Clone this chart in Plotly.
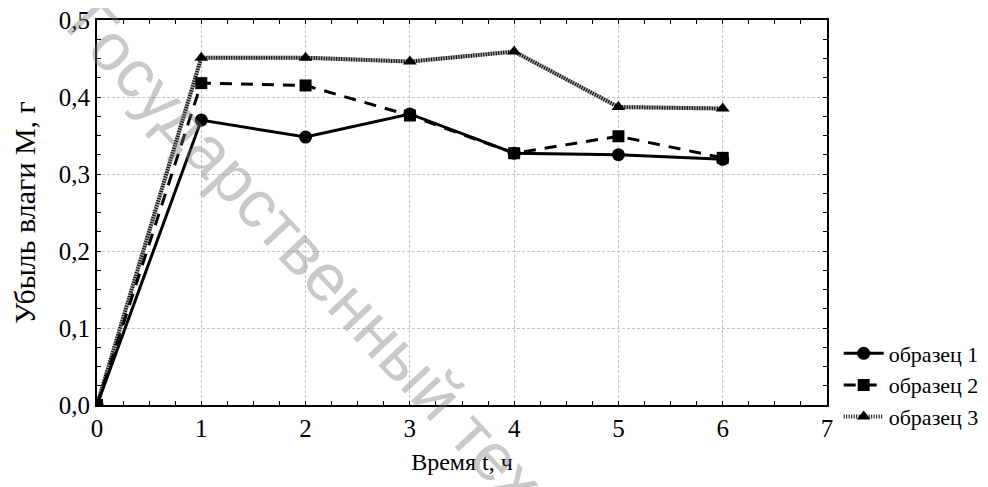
import plotly.graph_objects as go

time_h = [0, 1, 2, 3, 4, 5, 6]
sample1 = [0.0, 0.370, 0.348, 0.378, 0.327, 0.325, 0.319]
sample2 = [0.0, 0.418, 0.415, 0.376, 0.327, 0.349, 0.321]
sample3 = [0.0, 0.451, 0.451, 0.446, 0.459, 0.387, 0.385]
names = ["образец 1", "образец 2", "образец 3"]

SERIF = "Liberation Serif"

fig = go.Figure()

fig.add_trace(go.Scatter(
    x=time_h, y=sample3, mode="lines", showlegend=False, hoverinfo="skip",
    line=dict(color="#a0a0a0", width=4)))
fig.add_trace(go.Scatter(
    x=time_h, y=sample1, mode="lines+markers", name=names[0],
    line=dict(color="black", width=3),
    marker=dict(symbol="circle", size=13, color="black")))
fig.add_trace(go.Scatter(
    x=time_h, y=sample2, mode="lines+markers", name=names[1],
    line=dict(color="black", width=3, dash="12px,9px"),
    marker=dict(symbol="square", size=12, color="black")))
fig.add_trace(go.Scatter(
    x=time_h, y=sample3, mode="lines+markers", name=names[2],
    line=dict(color="black", width=4, dash="1px,1.5px"),
    marker=dict(symbol="triangle-up", size=12, color="black")))

axis_common = dict(
    showline=True, linecolor="black", linewidth=2, mirror="allticks",
    ticks="inside", ticklen=4, tickwidth=1, tickcolor="black",
    showgrid=True, gridcolor="#c4c4c4", gridwidth=1, griddash="3px,2px",
    zeroline=False, automargin=False, ticklabeloverflow="allow",
    tickfont=dict(family=SERIF, size=25, color="black"),
)

fig.update_xaxes(
    range=[0, 7], dtick=1, tick0=0,
    minor=dict(dtick=0.25, ticks="inside", ticklen=4, tickcolor="black", showgrid=False),
    title=dict(text="Время t, ч", font=dict(family=SERIF, size=24, color="black"), standoff=12),
    **axis_common)
fig.update_yaxes(
    range=[0, 0.5], dtick=0.1, tick0=0, tickformat=".1f",
    minor=dict(dtick=0.025, ticks="inside", ticklen=4, tickcolor="black", showgrid=False),
    title=dict(text="Убыль влаги М, г", font=dict(family=SERIF, size=30, color="black"), standoff=33),
    **axis_common)

fig.add_annotation(
    text="Государственный тех", xref="paper", yref="paper",
    x=0.285, y=0.395, xanchor="center", yanchor="middle",
    showarrow=False, textangle=47,
    font=dict(family="Liberation Sans", size=67, color="rgba(120,120,120,0.40)"))

fig.update_layout(
    width=988, height=487,
    margin=dict(l=89, r=166, t=12, b=90),
    paper_bgcolor="white", plot_bgcolor="white",
    separators=", ",
    showlegend=True,
    legend=dict(x=1.016, y=0.052, xanchor="left", yanchor="middle",
                bgcolor="rgba(0,0,0,0)", font=dict(family=SERIF, size=22, color="black"),
                tracegroupgap=0, itemwidth=40),
)

fig.write_html("out.html")
